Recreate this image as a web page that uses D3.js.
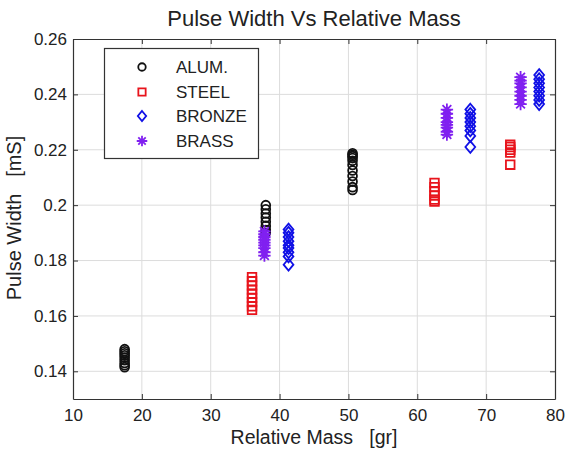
<!DOCTYPE html>
<html>
<head>
<meta charset="utf-8">
<script src="https://cdn.jsdelivr.net/npm/d3@7"></script>
<style>
  html, body { margin: 0; padding: 0; background: #fff; }
  svg { display: block; font-family: "Liberation Sans", Arial, Helvetica, sans-serif; }
  text { white-space: pre; }
</style>
</head>
<body>
<svg id="chart" width="565" height="452"></svg>
<script>
// ---------------- DATA ----------------
const chartTitle = "Pulse Width Vs Relative Mass";
const xLabel = "Relative Mass   [gr]";
const yLabel = "Pulse Width   [mS]";

const xTicks = [10, 20, 30, 40, 50, 60, 70, 80];
const xTickLabels = ["10", "20", "30", "40", "50", "60", "70", "80"];
const yTicks = [0.14, 0.16, 0.18, 0.20, 0.22, 0.24, 0.26];
const yTickLabels = ["0.14", "0.16", "0.18", "0.2", "0.22", "0.24", "0.26"];

const materials = ["ALUM.", "STEEL", "BRONZE", "BRASS"];

const alumMass = [17.5, 38.0, 50.6];
const alumWidth = [
  [0.1480, 0.1472, 0.1465, 0.1458, 0.1450, 0.1440, 0.1430, 0.1422, 0.1415],
  [0.2000, 0.1985, 0.1970, 0.1955, 0.1940, 0.1925, 0.1910, 0.1900],
  [0.2187, 0.2182, 0.2177, 0.2170, 0.2160, 0.2145, 0.2125, 0.2105, 0.2085, 0.2065, 0.2055]
];

const steelMass = [36.0, 62.5, 73.5];
const steelWidth = [
  [0.1740, 0.1725, 0.1710, 0.1695, 0.1680, 0.1665, 0.1650, 0.1635, 0.1622],
  [0.2080, 0.2065, 0.2050, 0.2035, 0.2020, 0.2013],
  [0.2218, 0.2210, 0.2200, 0.2190, 0.2146]
];

const bronzeMass = [41.3, 67.7, 77.7];
const bronzeWidth = [
  [0.1912, 0.1900, 0.1885, 0.1870, 0.1855, 0.1845, 0.1830, 0.1815, 0.1785],
  [0.2345, 0.2330, 0.2315, 0.2300, 0.2285, 0.2270, 0.2250, 0.2210],
  [0.2470, 0.2455, 0.2440, 0.2425, 0.2410, 0.2395, 0.2380, 0.2365]
];

const brassMass = [37.8, 64.3, 75.0];
const brassWidth = [
  [0.1905, 0.1895, 0.1885, 0.1875, 0.1865, 0.1855, 0.1845, 0.1830, 0.1818],
  [0.2345, 0.2330, 0.2315, 0.2300, 0.2290, 0.2280, 0.2265, 0.2255],
  [0.2462, 0.2450, 0.2440, 0.2425, 0.2410, 0.2395, 0.2380, 0.2365]
];

// ---------------- STYLE / LAYOUT ----------------
const W = 565, H = 452;
const margin = { top: 39, right: 10, bottom: 53, left: 73 };
const colors = { "ALUM.": "#111111", "STEEL": "#e8141c", "BRONZE": "#1010e6", "BRASS": "#8020f0" };

const svg = d3.select("#chart");
const x = d3.scaleLinear().domain([10, 80]).range([margin.left, W - margin.right]);
const y = d3.scaleLinear().domain([0.13, 0.26]).range([H - margin.bottom, margin.top]);

function flatten(mass, widths) {
  const out = [];
  mass.forEach((m, i) => widths[i].forEach(w => out.push({ m, w })));
  return out;
}
const series = [
  { name: "ALUM.", pts: flatten(alumMass, alumWidth) },
  { name: "STEEL", pts: flatten(steelMass, steelWidth) },
  { name: "BRONZE", pts: flatten(bronzeMass, bronzeWidth) },
  { name: "BRASS", pts: flatten(brassMass, brassWidth) }
];

// marker paths (centered at 0,0)
function markerPath(name, s) {
  const p = d3.path();
  if (name === "ALUM.") {
    const r = 4.4 * s;
    p.moveTo(r, 0); p.arc(0, 0, r, 0, 2 * Math.PI);
  } else if (name === "STEEL") {
    const h = 4.3 * s;
    p.rect(-h, -h, 2 * h, 2 * h);
  } else if (name === "BRONZE") {
    const hw = 4.9 * s, hh = 5.9 * s;
    p.moveTo(0, -hh); p.lineTo(hw, 0); p.lineTo(0, hh); p.lineTo(-hw, 0); p.closePath();
  } else {
    const r = 6.2 * s;
    for (let k = 0; k < 4; k++) {
      const a = k * Math.PI / 4;
      p.moveTo(-r * Math.cos(a), -r * Math.sin(a));
      p.lineTo(r * Math.cos(a), r * Math.sin(a));
    }
  }
  return p.toString();
}

// ---------------- GRID ----------------
const grid = svg.append("g").attr("class", "grid");
grid.selectAll("line.gx").data(xTicks.slice(1, -1)).enter().append("line")
  .attr("x1", d => x(d)).attr("x2", d => x(d))
  .attr("y1", y.range()[0]).attr("y2", y.range()[1])
  .attr("stroke", "#dcdcdc").attr("stroke-width", 1);
grid.selectAll("line.gy").data(yTicks.slice(0, -1)).enter().append("line")
  .attr("y1", d => y(d)).attr("y2", d => y(d))
  .attr("x1", x.range()[0]).attr("x2", x.range()[1])
  .attr("stroke", "#dcdcdc").attr("stroke-width", 1);

// ---------------- DATA MARKERS ----------------
const plot = svg.append("g");
series.forEach(s => {
  plot.append("g").selectAll("path").data(s.pts).enter().append("path")
    .attr("d", markerPath(s.name, 1))
    .attr("transform", d => `translate(${x(d.m)},${y(d.w)})`)
    .attr("fill", "none")
    .attr("stroke", colors[s.name])
    .attr("stroke-width", 1.8);
});

// ---------------- AXES ----------------
const axisColor = "#333";
const fmtX = (d, i) => xTickLabels[i];
const fmtY = (d, i) => yTickLabels[i];

const gx = svg.append("g").attr("transform", `translate(0,${y.range()[0]})`)
  .call(d3.axisBottom(x).tickValues(xTicks).tickFormat(fmtX).tickSize(-5).tickPadding(10).tickSizeOuter(0));
const gxTop = svg.append("g").attr("transform", `translate(0,${y.range()[1]})`)
  .call(d3.axisTop(x).tickValues(xTicks).tickFormat("").tickSize(-5).tickSizeOuter(0));
const gy = svg.append("g").attr("transform", `translate(${x.range()[0]},0)`)
  .call(d3.axisLeft(y).tickValues(yTicks).tickFormat(fmtY).tickSize(-5).tickPadding(6).tickSizeOuter(0));
const gyR = svg.append("g").attr("transform", `translate(${x.range()[1]},0)`)
  .call(d3.axisRight(y).tickValues(yTicks).tickFormat("").tickSize(-5).tickSizeOuter(0));

[gx, gxTop, gy, gyR].forEach(g => {
  g.selectAll(".domain").attr("stroke", axisColor).attr("stroke-width", 1.2);
  g.selectAll(".tick line").attr("stroke", axisColor).attr("stroke-width", 1);
  g.selectAll("text").attr("fill", "#222").style("font-size", "17px")
    .style("font-family", "'Liberation Sans', Arial, sans-serif");
});

// ---------------- LABELS ----------------
svg.append("text").attr("x", (x.range()[0] + x.range()[1]) / 2).attr("y", 26)
  .attr("text-anchor", "middle").style("font-size", "22px").attr("fill", "#222")
  .text(chartTitle);
svg.append("text").attr("x", (x.range()[0] + x.range()[1]) / 2).attr("y", 444)
  .attr("text-anchor", "middle").style("font-size", "19.5px").attr("fill", "#222")
  .text(xLabel);
svg.append("text")
  .attr("transform", `translate(21,${(y.range()[0] + y.range()[1]) / 2 - 1}) rotate(-90)`)
  .attr("text-anchor", "middle").style("font-size", "20px").attr("fill", "#222")
  .text(yLabel);

// ---------------- LEGEND ----------------
const lg = svg.append("g");
lg.append("rect").attr("x", 104.5).attr("y", 48.5).attr("width", 154).attr("height", 110)
  .attr("fill", "#fff").attr("stroke", "#333").attr("stroke-width", 1.2);
const rowY = [67, 92, 116, 141];
materials.forEach((name, i) => {
  lg.append("path").attr("d", markerPath(name, 0.85))
    .attr("transform", `translate(142,${rowY[i]})`)
    .attr("fill", "none").attr("stroke", colors[name]).attr("stroke-width", 1.8);
  lg.append("text").attr("x", 176).attr("y", rowY[i]).attr("dy", "0.36em")
    .style("font-size", "17px").attr("fill", "#222").text(name);
});
</script>
</body>
</html>
